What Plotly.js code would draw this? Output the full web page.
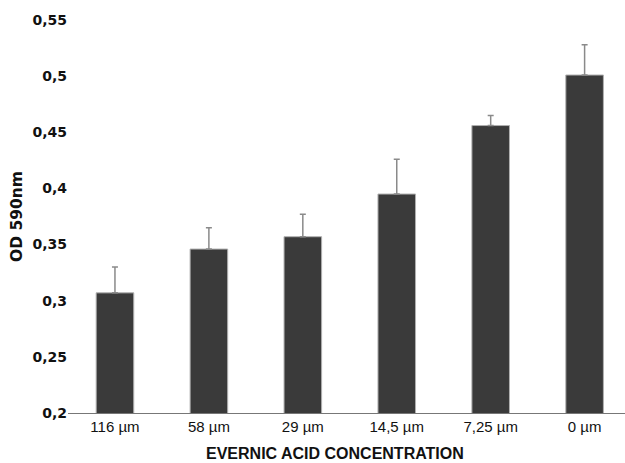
<!DOCTYPE html>
<html>
<head>
<meta charset="utf-8">
<script src="https://cdn.plot.ly/plotly-3.0.1.min.js"></script>
<style>html,body{margin:0;padding:0;background:#fff;}#chart{width:625px;height:463px;}</style>
</head>
<body>
<div id="chart"></div>
<script>
const categories = ["116 µm", "58 µm", "29 µm", "14,5 µm", "7,25 µm", "0 µm"];
const odValues = [0.307, 0.346, 0.357, 0.395, 0.456, 0.501];
const errValues = [0.023, 0.019, 0.020, 0.031, 0.009, 0.027];
const yTicks = [0.2, 0.25, 0.3, 0.35, 0.4, 0.45, 0.5, 0.55];

const trace = {
  type: "bar",
  x: categories,
  y: odValues,
  width: 0.4,
  marker: { color: "#3a3a3a", line: { color: "#b0b0b0", width: 1 } },
  error_y: { type: "data", array: errValues, symmetric: false, arrayminus: categories.map(() => 0), visible: true, color: "#8a8a8a", thickness: 1.5, width: 3 },
  hoverinfo: "none"
};

const layout = {
  width: 625, height: 463,
  margin: { l: 68, r: 0, t: 20, b: 50 },
  paper_bgcolor: "#fff", plot_bgcolor: "#fff",
  separators: ", ",
  showlegend: false,
  xaxis: {
    type: "category",
    range: [-0.5, 5.43],
    showline: true, linecolor: "#777", linewidth: 1,
    showgrid: false, zeroline: false, ticks: "",
    tickfont: { family: "Liberation Sans, Arial, sans-serif", size: 15, color: "#111" },
    ticklabelstandoff: 0
  },
  yaxis: {
    range: [0.2, 0.55],
    tickvals: yTicks,
    showline: false, showgrid: false, zeroline: false, ticks: "",
    tickfont: { family: "DejaVu Sans, sans-serif", size: 14, color: "#111", weight: "bold" },
    ticklabelstandoff: 0,
    title: { text: "OD 590nm", font: { family: "DejaVu Sans, sans-serif", size: 15.5, color: "#111", weight: "bold" }, standoff: 6 },
    automargin: false
  },
  annotations: [{
    text: "EVERNIC ACID CONCENTRATION",
    xref: "paper", yref: "paper",
    x: 0.479, y: -0.102, xanchor: "center", yanchor: "middle",
    showarrow: false,
    font: { family: "Liberation Sans, Arial, sans-serif", size: 16, color: "#111", weight: "bold" }
  }]
};

Plotly.newPlot("chart", [trace], layout, { displayModeBar: false, staticPlot: true });
</script>
</body>
</html>
